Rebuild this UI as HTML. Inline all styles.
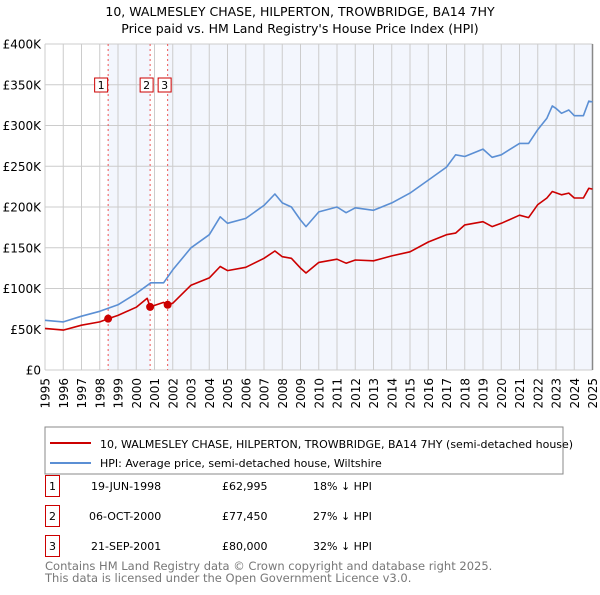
<!DOCTYPE html>
<html><head><meta charset="utf-8"><style>
body{margin:0;background:#fff;font-family:"Liberation Sans","DejaVu Sans",sans-serif;}
svg text{font-family:"DejaVu Sans","Liberation Sans",sans-serif;}
</style></head><body>
<svg id="c" width="600" height="590" xmlns="http://www.w3.org/2000/svg">
<text x="300" y="16" text-anchor="middle" font-size="12.5" fill="#000">10, WALMESLEY CHASE, HILPERTON, TROWBRIDGE, BA14 7HY</text>
<text x="300" y="33" text-anchor="middle" font-size="12.5" fill="#000">Price paid vs. HM Land Registry's House Price Index (HPI)</text>
<g id="plot"></g>
<rect x="45" y="427" width="518" height="47" fill="#fff" stroke="#888"/>
<line x1="50" y1="443" x2="91" y2="443" stroke="#cc0000" stroke-width="2"/>
<text x="100" y="448" font-size="11">10, WALMESLEY CHASE, HILPERTON, TROWBRIDGE, BA14 7HY (semi-detached house)</text>
<line x1="50" y1="463" x2="91" y2="463" stroke="#5b8fd4" stroke-width="2"/>
<text x="100" y="467" font-size="11">HPI: Average price, semi-detached house, Wiltshire</text>
<g font-size="11">
<rect x="45.5" y="475.5" width="14" height="21" fill="#fff" stroke="#cc0000"/><text x="52.5" y="490" text-anchor="middle">1</text>
<text x="91" y="490">19-JUN-1998</text><text x="222" y="490">£62,995</text><text x="313" y="490">18% ↓ HPI</text>
<rect x="45.5" y="505.5" width="14" height="21" fill="#fff" stroke="#cc0000"/><text x="52.5" y="520" text-anchor="middle">2</text>
<text x="89" y="520">06-OCT-2000</text><text x="222" y="520">£77,450</text><text x="313" y="520">27% ↓ HPI</text>
<rect x="45.5" y="535.5" width="14" height="21" fill="#fff" stroke="#cc0000"/><text x="52.5" y="550" text-anchor="middle">3</text>
<text x="91" y="550">21-SEP-2001</text><text x="222" y="550">£80,000</text><text x="313" y="550">32% ↓ HPI</text>
</g>
<text x="45" y="570" font-size="11.5" fill="#777">Contains HM Land Registry data © Crown copyright and database right 2025.</text>
<text x="45" y="582" font-size="11.5" fill="#777">This data is licensed under the Open Government Licence v3.0.</text>
</svg>
<script>
const hpiYears=[1995,1996,1997,1998,1999,2000,2000.8,2001.5,2002,2003,2004,2004.6,2005,2006,2007,2007.6,2008,2008.5,2009,2009.3,2010,2011,2011.5,2012,2013,2014,2015,2016,2017,2017.5,2018,2019,2019.5,2020,2021,2021.5,2022,2022.5,2022.8,2023,2023.3,2023.7,2024,2024.5,2024.8,2025];
const hpiValues=[61000,59000,66000,72000,80000,94000,107000,107000,123000,150000,166000,188000,180000,186000,202000,216000,205000,200000,184000,176000,194000,200000,193000,199000,196000,205000,217000,233000,249000,264000,262000,271000,261000,264000,278000,278000,295000,309000,324000,321000,315000,319000,312000,312000,330000,329000];
const priceYears=[1995,1996,1997,1998,1998.46,1999,2000,2000.6,2000.76,2001.5,2001.72,2002,2003,2004,2004.6,2005,2006,2007,2007.6,2008,2008.5,2009,2009.3,2010,2011,2011.5,2012,2013,2014,2015,2016,2017,2017.5,2018,2019,2019.5,2020,2021,2021.5,2022,2022.5,2022.8,2023.3,2023.7,2024,2024.5,2024.8,2025];
const priceValues=[51000,49000,55000,59000,62995,67000,77000,88000,77450,83000,80000,82000,104000,113000,127000,122000,126000,137000,146000,139000,137000,125000,119000,132000,136000,131000,135000,134000,140000,145000,157000,166000,168000,178000,182000,176000,180000,190000,187000,203000,211000,219000,215000,217000,211000,211000,223000,222000];
const saleYears=[1998.46,2000.76,2001.72];
const saleValues=[62995,77450,80000];
const saleLabels=["1","2","3"];
const yTicks=[0,50000,100000,150000,200000,250000,300000,350000,400000];
const yTickLabels=["£0","£50K","£100K","£150K","£200K","£250K","£300K","£350K","£400K"];
const xTicks=[1995,1996,1997,1998,1999,2000,2001,2002,2003,2004,2005,2006,2007,2008,2009,2010,2011,2012,2013,2014,2015,2016,2017,2018,2019,2020,2021,2022,2023,2024,2025];

const X0=45,X1=592.5,Y0=370,Y1=44;
const xs=t=>X0+(t-1995)/30*(X1-X0);
const ys=v=>Y0-v/400000*(Y0-Y1);
const NS="http://www.w3.org/2000/svg";
const g=document.getElementById('plot');
function mk(tag,attrs,parent){const e=document.createElementNS(NS,tag);for(const k in attrs)e.setAttribute(k,attrs[k]);(parent||g).appendChild(e);return e;}

let e=mk('rect',{x:X0,y:Y1,width:X1-X0,height:Y0-Y1,fill:'#fff'});


e=mk('rect',{x:xs(saleYears[0]),y:Y1,width:xs(saleYears[1])-xs(saleYears[0]),height:Y0-Y1,fill:'#f3f6fd'});


e=mk('rect',{x:xs(saleYears[2]),y:Y1,width:X1-xs(saleYears[2]),height:Y0-Y1,fill:'#f3f6fd'});



xTicks.forEach((t,i)=>{
  const x=xs(t);
  const l=mk('line',{x1:x,y1:Y1,x2:x,y2:Y0,stroke:'#cccccc','stroke-width':1});
  
  
  const tx=mk('text',{x:0,y:0,'font-size':12,'text-anchor':'end',transform:`translate(${x+4.5},${Y0+8}) rotate(-90)`});
  tx.textContent=String(t);
  
  
});
yTicks.forEach((v,i)=>{
  const y=ys(v);
  const l=mk('line',{x1:X0,y1:y,x2:X1,y2:y,stroke:'#cccccc','stroke-width':1});
  
  
  const tx=mk('text',{x:41,y:y+4.5,'font-size':12,'text-anchor':'end'});
  tx.textContent=yTickLabels[i];
  
  
});
e=mk('line',{x1:X1,y1:Y1,x2:X1,y2:Y0,stroke:'#888','stroke-width':1.5});



saleYears.forEach((t,i)=>{
  const x=xs(t);
  const l=mk('line',{x1:x,y1:Y1,x2:x,y2:Y0,stroke:'#ee5555','stroke-width':1,'stroke-dasharray':'2,3'});
  
  
});

function path(xa,va,color,name){
  const d=xa.map((t,i)=>(i?'L':'M')+xs(t).toFixed(1)+','+ys(va[i]).toFixed(1)).join(' ');
  const p=mk('path',{d:d,fill:'none',stroke:color,'stroke-width':1.6,'stroke-linejoin':'round'});
  
  
}
path(hpiYears,hpiValues,'#5b8fd4','hpi-line');
path(priceYears,priceValues,'#cc0000','price-paid-line');

saleYears.forEach((t,i)=>{
  const c=mk('circle',{cx:xs(t),cy:ys(saleValues[i]),r:4,fill:'#cc0000'});
  
  
  const cx=i===1?xs(t)-3.5:(i===2?xs(t)-3:xs(t)-7);
  const w=13,h=14;
  const r=mk('rect',{x:cx-w/2,y:78,width:w,height:h,fill:'#fff',stroke:'#cc0000'});
  
  
  const tx=mk('text',{x:cx,y:89,'font-size':11,'text-anchor':'middle'});
  tx.textContent=saleLabels[i];
  
  
});
</script>
</body></html>
